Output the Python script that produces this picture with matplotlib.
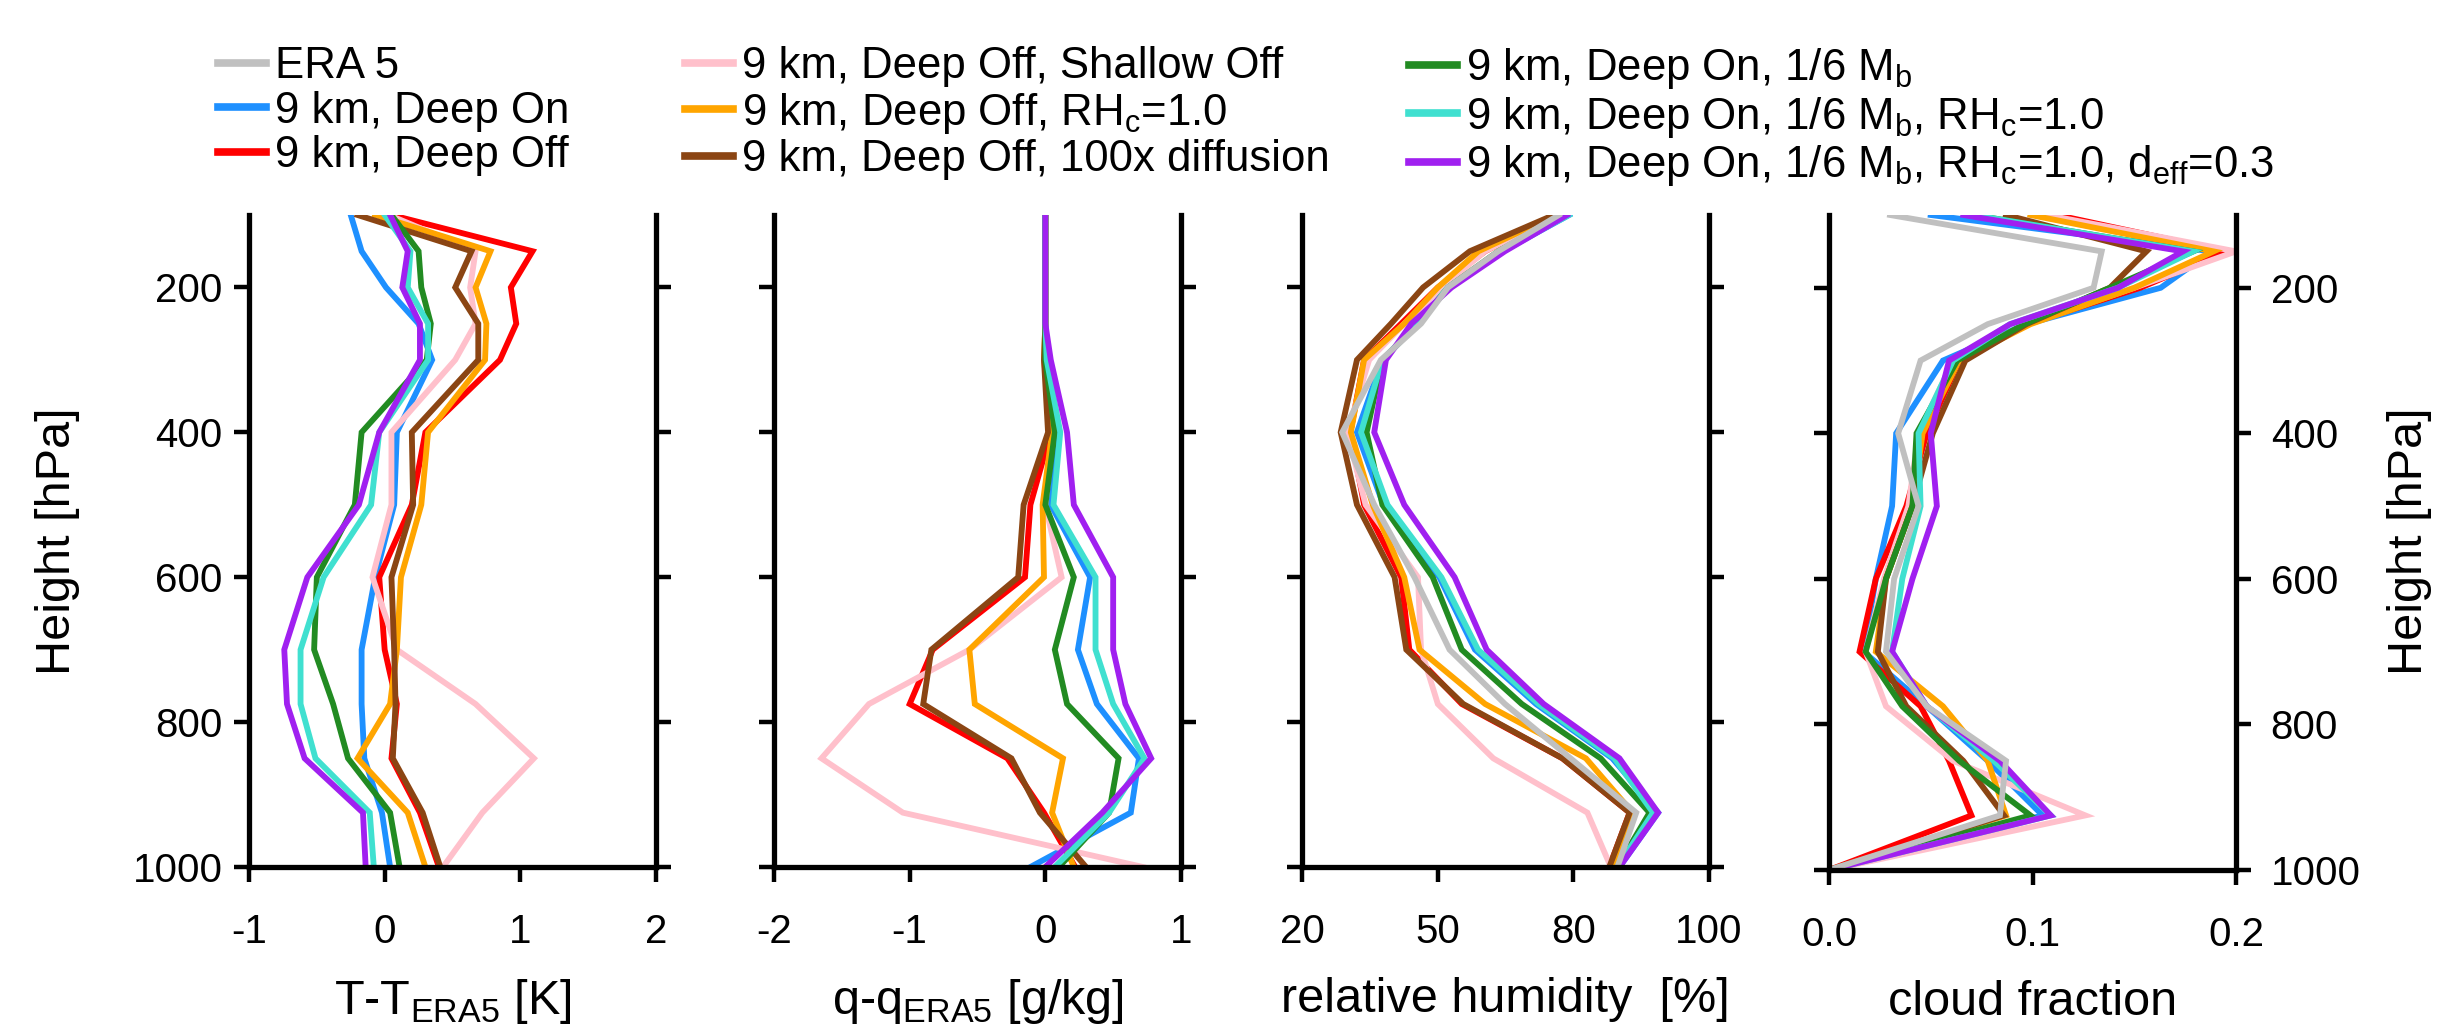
import matplotlib
matplotlib.use("Agg")
import matplotlib.pyplot as plt

plt.rcParams['font.family'] = ['Liberation Sans', 'DejaVu Sans']
plt.rcParams['mathtext.fontset'] = 'custom'
plt.rcParams['mathtext.rm'] = 'Liberation Sans'

# pressure levels [hPa]
plev = [100, 150, 200, 250, 300, 400, 500, 600, 700, 775, 850, 925, 1000]

# experiment names, colours and legend labels
runs = ['era5', 'deep_on', 'deep_off', 'shallow_off', 'rhc', 'diff100',
        'mb6', 'mb6_rhc', 'mb6_rhc_deff']
colors = {'era5': '#c0c0c0', 'deep_on': '#1e90ff', 'deep_off': '#ff0000',
          'shallow_off': '#ffc0cb', 'rhc': '#ffa500', 'diff100': '#8b4513',
          'mb6': '#228b22', 'mb6_rhc': '#40e0d0', 'mb6_rhc_deff': '#a020f0'}
labels = {'era5': 'ERA 5',
          'deep_on': '9 km, Deep On',
          'deep_off': '9 km, Deep Off',
          'shallow_off': '9 km, Deep Off, Shallow Off',
          'rhc': '9 km, Deep Off, RH$_\\mathregular{c}$=1.0',
          'diff100': '9 km, Deep Off, 100x diffusion',
          'mb6': '9 km, Deep On, 1/6 M$_\\mathregular{b}$',
          'mb6_rhc': '9 km, Deep On, 1/6 M$_\\mathregular{b}$, RH$_\\mathregular{c}$=1.0',
          'mb6_rhc_deff': '9 km, Deep On, 1/6 M$_\\mathregular{b}$, RH$_\\mathregular{c}$=1.0, d$_\\mathregular{eff}$=0.3'}

# temperature bias vs ERA5 [K]
dT = {
    'deep_on':      [-0.25, -0.17, 0.01, 0.25, 0.35, 0.09, 0.07, -0.07, -0.17, -0.17, -0.15, -0.02, 0.04],
    'deep_off':     [0.05, 1.09, 0.93, 0.97, 0.85, 0.30, 0.20, -0.04, 0.00, 0.09, 0.05, 0.26, 0.40],
    'shallow_off':  [0.03, 0.67, 0.63, 0.67, 0.52, 0.05, 0.05, -0.09, 0.09, 0.67, 1.10, 0.72, 0.43],
    'rhc':          [-0.07, 0.78, 0.67, 0.75, 0.74, 0.32, 0.27, 0.12, 0.09, 0.04, -0.20, 0.17, 0.30],
    'diff100':      [-0.20, 0.64, 0.52, 0.69, 0.69, 0.20, 0.21, 0.05, 0.07, 0.08, 0.06, 0.28, 0.41],
    'mb6':          [0.05, 0.25, 0.27, 0.34, 0.31, -0.17, -0.22, -0.50, -0.52, -0.38, -0.27, 0.04, 0.11],
    'mb6_rhc':      [0.00, 0.19, 0.17, 0.32, 0.32, -0.04, -0.10, -0.45, -0.62, -0.62, -0.51, -0.11, -0.08],
    'mb6_rhc_deff': [0.04, 0.17, 0.13, 0.26, 0.26, -0.04, -0.19, -0.57, -0.74, -0.72, -0.59, -0.16, -0.14],
}

# specific humidity bias vs ERA5 [g/kg]
dq = {
    'deep_on':      [0, 0, 0, 0, 0.01, 0.10, 0.04, 0.33, 0.24, 0.38, 0.69, 0.63, -0.11],
    'deep_off':     [0, 0, 0, 0, 0.00, 0.04, -0.11, -0.15, -0.83, -1.00, -0.28, -0.01, 0.22],
    'shallow_off':  [0, 0, 0, 0, 0.00, 0.06, 0.00, 0.12, -0.56, -1.30, -1.65, -1.05, 0.72],
    'rhc':          [0, 0, 0, 0, -0.01, 0.05, -0.02, -0.01, -0.56, -0.52, 0.13, 0.05, 0.21],
    'diff100':      [0, 0, 0, 0, -0.01, 0.02, -0.16, -0.20, -0.84, -0.90, -0.25, -0.04, 0.30],
    'mb6':          [0, 0, 0, 0, 0.00, 0.07, 0.00, 0.21, 0.07, 0.16, 0.54, 0.47, 0.10],
    'mb6_rhc':      [0, 0, 0, 0, 0.01, 0.11, 0.06, 0.37, 0.37, 0.50, 0.73, 0.47, 0.07],
    'mb6_rhc_deff': [0, 0, 0, 0, 0.04, 0.16, 0.21, 0.50, 0.50, 0.59, 0.78, 0.42, 0.00],
}

# relative humidity [%]
rh = {
    'era5':         [70.5, 58.6, 48.7, 43.4, 35.5, 27.9, 34.2, 42.1, 49.0, 59.9, 72.8, 85.7, 82.0],
    'deep_on':      [72.5, 59.5, 48.7, 42.8, 35.8, 30.8, 36.0, 47.0, 54.0, 66.0, 81.0, 90.0, 82.4],
    'deep_off':     [69.9, 56.0, 46.7, 39.5, 32.2, 29.5, 32.2, 39.5, 41.1, 51.4, 71.2, 84.4, 80.4],
    'shallow_off':  [69.9, 56.0, 47.4, 40.1, 33.2, 28.9, 32.5, 42.8, 43.4, 46.7, 57.6, 76.1, 80.7],
    'rhc':          [69.9, 54.7, 46.7, 40.1, 32.2, 29.6, 33.9, 40.1, 43.1, 56.0, 75.8, 85.0, 81.1],
    'diff100':      [69.5, 53.0, 43.8, 37.5, 30.8, 27.6, 30.8, 38.2, 40.5, 51.7, 71.2, 84.4, 80.4],
    'mb6':          [71.5, 58.6, 48.7, 42.8, 35.8, 32.7, 35.8, 45.7, 51.4, 63.2, 78.7, 88.3, 82.0],
    'mb6_rhc':      [72.5, 59.2, 48.7, 42.8, 35.8, 31.6, 36.8, 47.4, 54.6, 66.5, 81.4, 89.0, 82.0],
    'mb6_rhc_deff': [72.1, 59.9, 49.4, 41.5, 36.5, 34.2, 40.1, 50.0, 56.3, 67.5, 82.4, 90.0, 82.4],
}

# cloud fraction
cf = {
    'era5':         [0.030, 0.134, 0.130, 0.078, 0.045, 0.034, 0.044, 0.032, 0.028, 0.048, 0.087, 0.084, 0.0],
    'deep_on':      [0.050, 0.188, 0.163, 0.097, 0.056, 0.033, 0.031, 0.023, 0.017, 0.048, 0.078, 0.105, 0.0],
    'deep_off':     [0.112, 0.195, 0.153, 0.097, 0.064, 0.048, 0.038, 0.023, 0.015, 0.045, 0.059, 0.070, 0.0],
    'shallow_off':  [0.107, 0.200, 0.150, 0.097, 0.061, 0.044, 0.039, 0.027, 0.018, 0.028, 0.061, 0.126, 0.0],
    'rhc':          [0.099, 0.189, 0.150, 0.099, 0.064, 0.046, 0.041, 0.028, 0.023, 0.056, 0.078, 0.087, 0.0],
    'diff100':      [0.087, 0.156, 0.138, 0.097, 0.067, 0.051, 0.041, 0.028, 0.024, 0.038, 0.066, 0.086, 0.0],
    'mb6':          [0.071, 0.179, 0.138, 0.096, 0.063, 0.043, 0.041, 0.028, 0.018, 0.036, 0.064, 0.099, 0.0],
    'mb6_rhc':      [0.071, 0.179, 0.142, 0.089, 0.061, 0.044, 0.045, 0.036, 0.031, 0.048, 0.081, 0.109, 0.0],
    'mb6_rhc_deff': [0.066, 0.174, 0.142, 0.089, 0.059, 0.050, 0.053, 0.041, 0.031, 0.048, 0.084, 0.109, 0.0],
}

xticks = [[-1, 0, 1, 2], [-2, -1, 0, 1], [20, 46.67, 73.33, 100], [0.0, 0.1, 0.2]]
xticklabels = [['-1', '0', '1', '2'], ['-2', '-1', '0', '1'],
               ['20', '50', '80', '100'], ['0.0', '0.1', '0.2']]
xlabels = ['T-T$_\\mathregular{ERA5}$ [K]', 'q-q$_\\mathregular{ERA5}$ [g/kg]',
           'relative humidity  [%]', 'cloud fraction']
yticks = [200, 400, 600, 800, 1000]

# draw order (ERA5 on top)
draw_order = ['deep_on', 'deep_off', 'shallow_off', 'rhc', 'diff100',
              'mb6', 'mb6_rhc', 'mb6_rhc_deff', 'era5']

W, H = 2441, 1033
fig = plt.figure(figsize=(W / 100, H / 100), dpi=100)

lefts = [249, 774, 1302, 1829]
pw = 407
top_px = 215
bottoms = [867, 867, 867, 870]

handles = {}
for i, data in enumerate([dT, dq, rh, cf]):
    ax = fig.add_axes([lefts[i] / W, 1 - bottoms[i] / H, pw / W, (bottoms[i] - top_px) / H])
    for r in draw_order:
        if r in data:
            ln, = ax.plot(data[r], plev, color=colors[r], lw=4.2, solid_joinstyle='miter')
            handles[r] = ln
    ax.set_xlim(xticks[i][0], xticks[i][-1])
    ax.set_ylim(1000, 100)
    ax.set_xticks(xticks[i])
    ax.set_xticklabels(xticklabels[i])
    ax.set_yticks(yticks)
    ax.spines['top'].set_visible(False)
    for s in ['left', 'right', 'bottom']:
        ax.spines[s].set_linewidth(3.8)
    ax.tick_params(axis='x', direction='out', length=11, width=3.2, pad=22, labelsize=29)
    ax.tick_params(axis='y', direction='out', length=11, width=3.2,
                   pad=(8 if i == 0 else 14), labelsize=29,
                   left=True, right=True, labelleft=(i == 0), labelright=(i == 3))
    ax.set_xlabel(xlabels[i], fontsize=35, labelpad=19)

fig.text(58 / W, 1 - 541 / H, 'Height [hPa]', rotation=90, fontsize=35,
         ha='center', va='center')
fig.text(2410 / W, 1 - 541 / H, 'Height [hPa]', rotation=90, fontsize=35,
         ha='center', va='center')

# legend in three columns
cols = [['era5', 'deep_on', 'deep_off'],
        ['shallow_off', 'rhc', 'diff100'],
        ['mb6', 'mb6_rhc', 'mb6_rhc_deff']]
col_x = [218, 685, 1409]
for c, xpos in zip(cols, col_x):
    leg = fig.legend([handles[k] for k in c], [labels[k] for k in c],
                     loc='upper left', bbox_to_anchor=(xpos / W, 1 - 46 / H),
                     frameon=False, fontsize=31.5, borderpad=0, borderaxespad=0,
                     handlelength=1.1, handletextpad=0.2, labelspacing=0.08)
    for lh in leg.get_lines():
        lh.set_linewidth(5.5)

fig.savefig('out.png', dpi=100)
